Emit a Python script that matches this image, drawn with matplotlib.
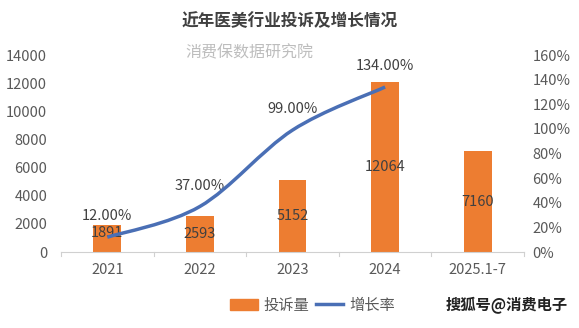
import matplotlib; matplotlib.use("Agg")
import matplotlib.pyplot as plt
from matplotlib.path import Path
from matplotlib.patches import PathPatch, Patch
from matplotlib.lines import Line2D

plt.rcParams["font.family"] = ["Noto Sans CJK SC", "DejaVu Sans"]

years = ["2021", "2022", "2023", "2024", "2025.1-7"]
complaints = [1891, 2593, 5152, 12064, 7160]
growth = [0.12, 0.37, 0.99, 1.34]
growth_labels = ["12.00%", "37.00%", "99.00%", "134.00%"]

orange = "#ED7D31"; blue = "#4A6FB5"; grey = "#595959"

fig = plt.figure(figsize=(5.79, 3.28), dpi=100)
ax = fig.add_axes([0.1054, 0.2317, 0.7996, 0.6006])
ax2 = ax.twinx()

x = list(range(len(years)))
ax.bar(x, complaints, 0.3, color=orange, zorder=2)
for i, v in enumerate(complaints):
    ax.text(i, v / 2 if v > 2200 else v * 0.72, str(v), ha="center", va="center",
            fontsize=10.5, color="#404040", zorder=5)

ax.set_xlim(-0.5, 4.5); ax.set_ylim(0, 14000)
ax.set_yticks(range(0, 14001, 2000))
ax.set_xticks(x); ax.set_xticklabels(years)
for s in ["top", "right", "left"]:
    ax.spines[s].set_visible(False)
    ax2.spines[s].set_visible(False)
ax2.spines["bottom"].set_visible(False)
ax.spines["bottom"].set_color("#D0D0D0")
ax.tick_params(axis="x", length=0, pad=8, labelsize=10.5, labelcolor=grey)
ax.tick_params(axis="y", length=0, pad=10, labelsize=10.5, labelcolor=grey)
# category boundary ticks
for b in [i - 0.5 for i in range(len(years) + 1)]:
    ax.plot([b, b], [0, -300], color="#D0D0D0", lw=0.8, clip_on=False)

ax2.set_ylim(0, 1.6)
ax2.set_yticks([i * 0.2 for i in range(9)])
ax2.set_yticklabels([f"{i*20}%" for i in range(9)])
ax2.tick_params(axis="y", length=0, pad=6, labelsize=10.5, labelcolor=grey)

# smoothed line (Bezier through the data points)
gx = x[:len(growth)]
verts = [(gx[0], growth[0])]; codes = [Path.MOVETO]
for i in range(len(growth) - 1):
    p0 = (gx[max(i - 1, 0)], growth[max(i - 1, 0)])
    p1 = (gx[i], growth[i]); p2 = (gx[i + 1], growth[i + 1])
    p3 = (gx[min(i + 2, len(growth) - 1)], growth[min(i + 2, len(growth) - 1)])
    c1 = (p1[0] + (p2[0] - p0[0]) / 6, p1[1] + (p2[1] - p0[1]) / 6)
    c2 = (p2[0] - (p3[0] - p1[0]) / 6, p2[1] - (p3[1] - p1[1]) / 6)
    verts += [c1, c2, p2]; codes += [Path.CURVE4] * 3
ax2.add_patch(PathPatch(Path(verts, codes), fill=False, edgecolor=blue, lw=2.5, zorder=4))
for i, (g, lab) in enumerate(zip(growth, growth_labels)):
    ax2.annotate(lab, (i, g), xytext=(0, 10), textcoords="offset points",
                 ha="center", va="bottom", fontsize=10.5, color="#404040")

fig.text(0.5, 0.935, "近年医美行业投诉及增长情况", ha="center", va="center",
         fontsize=12, fontweight="bold", color="#404040")
fig.text(0.43, 0.84, "消费保数据研究院", ha="center", va="center",
         fontsize=11.5, color="#BDBDBD")

handles = [Patch(color=orange), Line2D([], [], color=blue, lw=2.5)]
fig.legend(handles, ["投诉量", "增长率"], loc="center", bbox_to_anchor=(0.54, 0.07),
           ncol=2, frameon=False, fontsize=11, handlelength=1.8, columnspacing=0.4,
           handletextpad=0.4, labelcolor=grey)
fig.text(0.875, 0.07, "搜狐号@消费电子", ha="center", va="center",
         fontsize=11, fontweight="bold", color="#222222")

fig.savefig("out.png", dpi=100)
